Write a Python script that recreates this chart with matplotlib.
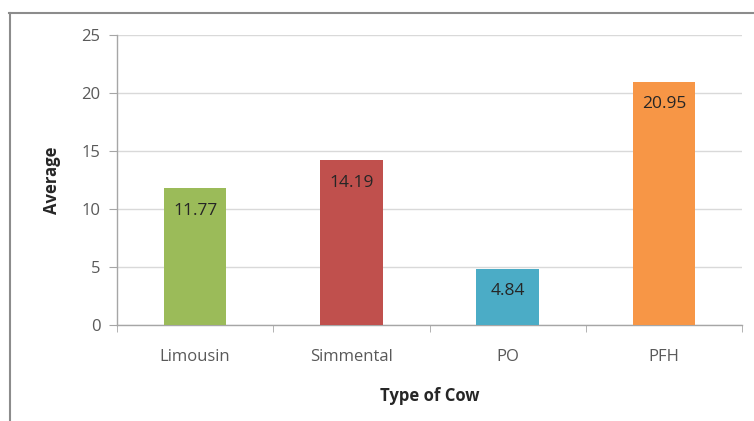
import matplotlib
matplotlib.use("Agg")
import matplotlib.pyplot as plt
from matplotlib.lines import Line2D
import numpy as np

categories = ["Limousin", "Simmental", "PO", "PFH"]
values = [11.77, 14.19, 4.84, 20.95]
colors = ["#9BBB59", "#C0504D", "#4BACC6", "#F79646"]
yticks = [0, 5, 10, 15, 20, 25]

plt.rcParams['font.family'] = ['Open Sans', 'DejaVu Sans']

fig = plt.figure(figsize=(7.54, 4.21), dpi=100)
ax = fig.add_axes([117/754, (421-325)/421, (742-117)/754, (325-35)/421])

x = np.arange(len(categories))
ax.bar(x, values, width=0.4, color=colors, zorder=3)
for xi, v in zip(x, values):
    ax.annotate(f"{v:.2f}", (xi, v), xytext=(0, -16), textcoords="offset points",
                ha="center", va="center", fontsize=12.5, color="#262626", zorder=4)

ax.set_xlim(-0.5, len(categories) - 0.5)
ax.set_ylim(0, 25)
ax.set_yticks(yticks)
ax.set_yticklabels([str(t) for t in yticks], fontsize=12, color="#595959")
ax.set_xticks(x)
ax.set_xticklabels(categories, fontsize=12, color="#595959")
ax.set_xticks(np.arange(-0.5, len(categories), 1.0), minor=True)
ax.tick_params(axis="x", which="major", length=0, pad=17.5)
ax.tick_params(axis="x", which="minor", length=5, color="#A6A6A6", direction="out")
ax.tick_params(axis="y", length=6, color="#A6A6A6", pad=6)

ax.grid(axis="y", color="#D9D9D9", linewidth=1, zorder=0)
for s in ["top", "right"]:
    ax.spines[s].set_visible(False)
for s in ["left", "bottom"]:
    ax.spines[s].set_color("#A6A6A6")
    ax.spines[s].set_linewidth(1)

ax.set_ylabel("Average", fontsize=12, fontweight="bold", color="#262626")
ax.yaxis.set_label_coords((61-117)/(742-117), 0.5)
ax.set_xlabel("Type of Cow", fontsize=12, fontweight="bold", color="#262626")
ax.xaxis.set_label_coords((430-117)/(742-117), -(387-325)/(325-35))

# outer chart frame (left and top edges visible)
fig.add_artist(Line2D([9.5/754, 9.5/754], [0, (421-13)/421], color="#8C8C8C", linewidth=1.5))
fig.add_artist(Line2D([9/754, 1], [(421-13)/421, (421-13)/421], color="#8C8C8C", linewidth=1.5))

fig.savefig("out.png", dpi=100)
